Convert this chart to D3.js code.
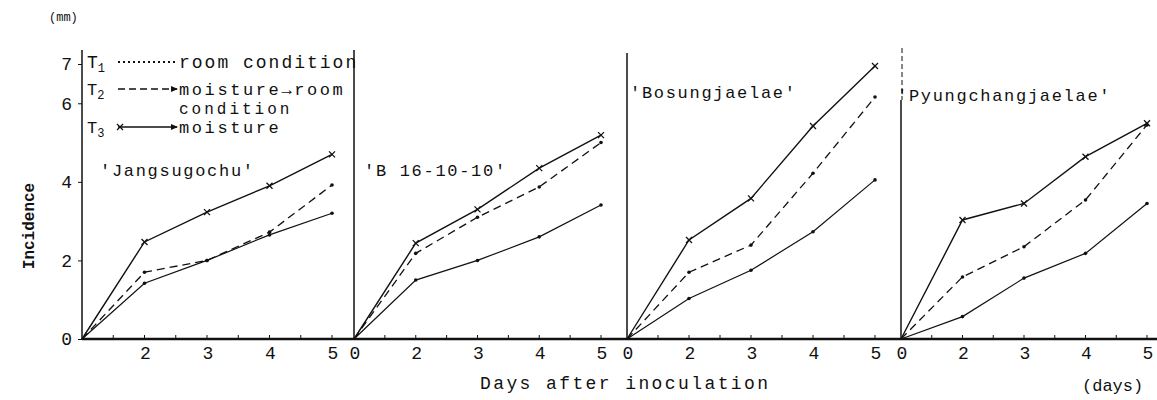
<!DOCTYPE html>
<html>
<head>
<meta charset="utf-8">
<script src="https://cdn.jsdelivr.net/npm/d3@7"></script>
<style>
  body { margin: 0; background: #fff; }
  svg { display: block; font-family: "Liberation Mono", "DejaVu Sans Mono", monospace; }
</style>
</head>
<body>
<svg id="chart" width="1157" height="400"></svg>
<script>
// datos
const days = ["0", "2", "3", "4", "5"];
const cultivars = ["'Jangsugochu'", "'B 16-10-10'", "'Bosungjaelae'", "'Pyungchangjaelae'"];
const yTicks = [0, 2, 4, 6, 7];
// T1 room condition
const t1Values = [
  [0, 1.42, 2.0, 2.65, 3.2],
  [0, 1.5, 2.0, 2.6, 3.41],
  [0, 1.03, 1.75, 2.73, 4.05],
  [0, 0.57, 1.55, 2.18, 3.45]
];
// T2 moisture -> room condition
const t2Values = [
  [0, 1.7, 2.0, 2.72, 3.92],
  [0, 2.18, 3.1, 3.87, 5.0],
  [0, 1.7, 2.39, 4.22, 6.16],
  [0, 1.58, 2.35, 3.54, 5.45]
];
// T3 moisture
const t3Values = [
  [0, 2.47, 3.23, 3.9, 4.7],
  [0, 2.44, 3.3, 4.35, 5.19],
  [0, 2.52, 3.58, 5.42, 6.95],
  [0, 3.03, 3.45, 4.64, 5.49]
];

const svg = d3.select("#chart");
const ink = "#111";
const baseY = 339;

const y = d3.scaleLinear().domain([0, 7]).range([baseY, 64]);

// posicion de cada panel
const panels = [
  { x0: 82, x1: 332, top: 50, label: [100, 176] },
  { x0: 354, x1: 601, top: 50, label: [364, 176] },
  { x0: 627, x1: 875, top: 53, label: [630, 98] },
  { x0: 901, x1: 1147, top: 100, label: [897, 101] }
];

const series = [
  { values: t1Values, dash: null, width: 1.2, marker: "dot" },
  { values: t2Values, dash: "8,5", width: 1.3, marker: "dot" },
  { values: t3Values, dash: null, width: 1.4, marker: "x" }
];

// linea base
svg.append("line")
  .attr("x1", 82).attr("x2", 1157)
  .attr("y1", baseY).attr("y2", baseY)
  .attr("stroke", ink).attr("stroke-width", 2.6);

panels.forEach((p, i) => {
  const x = d3.scalePoint().domain(days).range([p.x0, p.x1]);

  // eje vertical
  svg.append("line")
    .attr("x1", p.x0).attr("x2", p.x0)
    .attr("y1", p.top).attr("y2", baseY)
    .attr("stroke", ink).attr("stroke-width", 1.5);
  if (i === 3) {
    svg.append("line")
      .attr("x1", p.x0 + 1).attr("x2", p.x0 + 1)
      .attr("y1", 48).attr("y2", p.top)
      .attr("stroke", ink).attr("stroke-width", 1)
      .attr("stroke-dasharray", "5,3");
  }

  // marcas menores
  const minor = [];
  for (let k = 0; k < days.length - 1; k++) {
    minor.push((x(days[k]) + x(days[k + 1])) / 2);
  }
  svg.append("g").selectAll("line")
    .data(days.slice(1).map(d => x(d)).concat(minor))
    .join("line")
    .attr("x1", d => d).attr("x2", d => d)
    .attr("y1", baseY).attr("y2", baseY - 4)
    .attr("stroke", ink).attr("stroke-width", 1);

  // etiquetas de dias
  svg.append("g").selectAll("text")
    .data(i === 0 ? days.slice(1) : days)
    .join("text")
    .attr("x", d => x(d) + 1)
    .attr("y", 359)
    .attr("text-anchor", "middle")
    .attr("font-size", 18)
    .attr("fill", ink)
    .text(d => d);

  // lineas de tratamiento
  series.forEach(s => {
    const vals = s.values[i];
    const line = d3.line().x((d, j) => x(days[j])).y(d => y(d));
    svg.append("path")
      .attr("d", line(vals))
      .attr("fill", "none")
      .attr("stroke", ink)
      .attr("stroke-width", s.width)
      .attr("stroke-dasharray", s.dash);

    const pts = svg.append("g").selectAll("g")
      .data(vals.slice(1))
      .join("g")
      .attr("transform", (d, j) => `translate(${x(days[j + 1])},${y(d)})`);
    if (s.marker === "x") {
      pts.append("path").attr("d", "M-3,-3L3,3M-3,3L3,-3")
        .attr("stroke", ink).attr("stroke-width", 1.3);
    } else {
      pts.append("circle").attr("r", 1.8).attr("fill", ink);
    }
  });

  // nombre del cultivar
  svg.append("text")
    .attr("x", p.label[0]).attr("y", p.label[1])
    .attr("font-size", 17).attr("letter-spacing", 1.7)
    .attr("fill", ink)
    .text(cultivars[i]);
});

// eje y
const yAxis = svg.append("g")
  .attr("transform", "translate(82,0)")
  .call(d3.axisLeft(y).tickValues(yTicks).tickSize(4).tickPadding(6).tickFormat(d3.format("d")));
yAxis.select(".domain").remove();
yAxis.selectAll("line").attr("stroke", ink);
yAxis.selectAll("text")
  .attr("font-family", "Liberation Mono, DejaVu Sans Mono, monospace")
  .attr("font-size", 18).attr("fill", ink);

svg.append("text")
  .attr("x", 49).attr("y", 21)
  .attr("font-size", 12).attr("fill", ink)
  .text("(mm)");

svg.append("text")
  .attr("transform", "translate(34,226) rotate(-90)")
  .attr("text-anchor", "middle")
  .attr("font-size", 16).attr("font-weight", "bold")
  .attr("fill", ink)
  .text("Incidence");

svg.append("text")
  .attr("x", 480).attr("y", 389)
  .attr("font-size", 18).attr("letter-spacing", 2.4)
  .attr("fill", ink)
  .text("Days after inoculation");

svg.append("text")
  .attr("x", 1082).attr("y", 391)
  .attr("font-size", 17)
  .attr("fill", ink)
  .text("(days)");

// leyenda
const legend = [
  { sub: "1", y: 68, dash: "2,3", text: "room condition", size: 18, ls: 2 },
  { sub: "2", y: 95, dash: "7,4", text: "moisture\u2192room", size: 17, ls: 2.6 },
  { sub: "3", y: 133, dash: null, text: "moisture", size: 17, ls: 2.6 }
];
legend.forEach((l, k) => {
  const t = svg.append("text")
    .attr("x", 87).attr("y", l.y)
    .attr("font-size", l.size).attr("fill", ink);
  t.append("tspan").text("T");
  t.append("tspan").attr("font-size", 12).attr("dy", 4).text(l.sub);

  svg.append("line")
    .attr("x1", 118).attr("x2", 177)
    .attr("y1", l.y - 6).attr("y2", l.y - 6)
    .attr("stroke", ink).attr("stroke-width", k === 0 ? 1.8 : 1.3)
    .attr("stroke-dasharray", l.dash);
  if (k > 0) {
    svg.append("path")
      .attr("d", `M171,${l.y - 9}L178,${l.y - 6}L171,${l.y - 3}`)
      .attr("fill", ink);
  }
  if (k === 2) {
    svg.append("path")
      .attr("d", `M117,${l.y - 9}L123,${l.y - 3}M117,${l.y - 3}L123,${l.y - 9}`)
      .attr("stroke", ink).attr("stroke-width", 1.2);
  }

  svg.append("text")
    .attr("x", 179).attr("y", l.y)
    .attr("font-size", l.size).attr("letter-spacing", l.ls)
    .attr("fill", ink)
    .text(l.text);
});
svg.append("text")
  .attr("x", 179).attr("y", 114)
  .attr("font-size", 16).attr("letter-spacing", 3)
  .attr("fill", ink)
  .text("condition");
</script>
</body>
</html>
